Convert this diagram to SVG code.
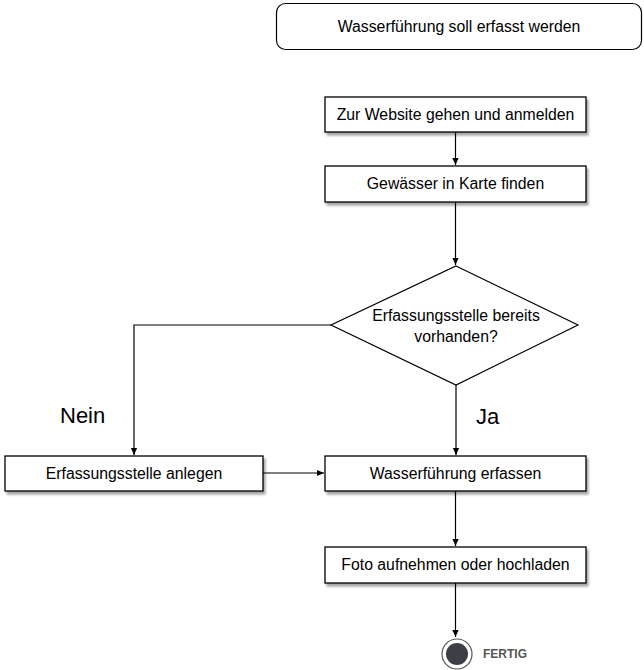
<svg xmlns="http://www.w3.org/2000/svg" width="644" height="670" viewBox="0 0 644 670">
<defs>
<filter id="sh" x="-10%" y="-20%" width="130%" height="160%">
<feDropShadow dx="2" dy="3" stdDeviation="1.2" flood-color="#000" flood-opacity="0.35"/>
</filter>
<marker id="ah" viewBox="0 0 10 10" refX="9" refY="5" markerWidth="8" markerHeight="8" markerUnits="userSpaceOnUse" orient="auto">
<path d="M0,1 L9,5 L0,9 z" fill="#000"/>
</marker>
</defs>
<style>
.box{fill:#fff;stroke:#000;stroke-width:1.3;filter:url(#sh)}
.t{font-family:"Liberation Sans",Arial,sans-serif;font-size:15.8px;fill:#000;text-anchor:middle}
.c{fill:none;stroke:#000;stroke-width:1.2}
.lbl{font-family:"Liberation Sans",Arial,sans-serif;font-size:22px;fill:#000}
</style>
<rect width="644" height="670" fill="#fff"/>
<g id="start">
<rect x="276.5" y="3.5" width="365" height="46" rx="9" fill="#fff" stroke="#000" stroke-width="1.2"/>
<text class="t" x="459" y="32">Wasserführung soll erfasst werden</text>
</g>
<g id="login">
<rect class="box" x="325" y="97" width="261" height="35"/>
<text class="t" x="455.5" y="120">Zur Website gehen und anmelden</text>
</g>
<g id="find">
<rect class="box" x="325" y="166" width="261" height="36"/>
<text class="t" x="455.5" y="189">Gewässer in Karte finden</text>
</g>
<g id="decision">
<polygon points="456,266 578,325 456,385 331,325" fill="#fff" stroke="#000" stroke-width="1.2"/>
<text class="t" x="456" y="321">Erfassungsstelle bereits</text>
<text class="t" x="456" y="342">vorhanden?</text>
</g>
<g id="create">
<rect class="box" x="5" y="456" width="258" height="35"/>
<text class="t" x="134" y="479">Erfassungsstelle anlegen</text>
</g>
<g id="record">
<rect class="box" x="325" y="456" width="261" height="35"/>
<text class="t" x="455.5" y="479">Wasserführung erfassen</text>
</g>
<g id="photo">
<rect class="box" x="325" y="547" width="261" height="36"/>
<text class="t" x="455.5" y="570">Foto aufnehmen oder hochladen</text>
</g>
<g id="end">
<circle cx="457" cy="654" r="15" fill="#fff" stroke="#555" stroke-width="1.2"/>
<circle cx="457" cy="654" r="11" fill="#3c3f45"/>
<text x="483" y="658" font-family="'Liberation Sans',Arial,sans-serif" font-size="12" font-weight="bold" fill="#555">FERTIG</text>
</g>
<g id="connectors">
<line class="c" x1="455.5" y1="132" x2="455.5" y2="165" marker-end="url(#ah)"/>
<line class="c" x1="455.5" y1="202" x2="455.5" y2="265" marker-end="url(#ah)"/>
<polyline class="c" points="331,325 134,325 134,455" marker-end="url(#ah)"/>
<line class="c" x1="456" y1="385" x2="456" y2="455" marker-end="url(#ah)"/>
<line class="c" x1="263" y1="473" x2="324" y2="473" marker-end="url(#ah)"/>
<line class="c" x1="455.5" y1="491" x2="455.5" y2="546" marker-end="url(#ah)"/>
<line class="c" x1="455.5" y1="583" x2="455.5" y2="637" marker-end="url(#ah)"/>
<text class="lbl" x="60" y="423">Nein</text>
<text class="lbl" x="476" y="424">Ja</text>
</g>
</svg>
